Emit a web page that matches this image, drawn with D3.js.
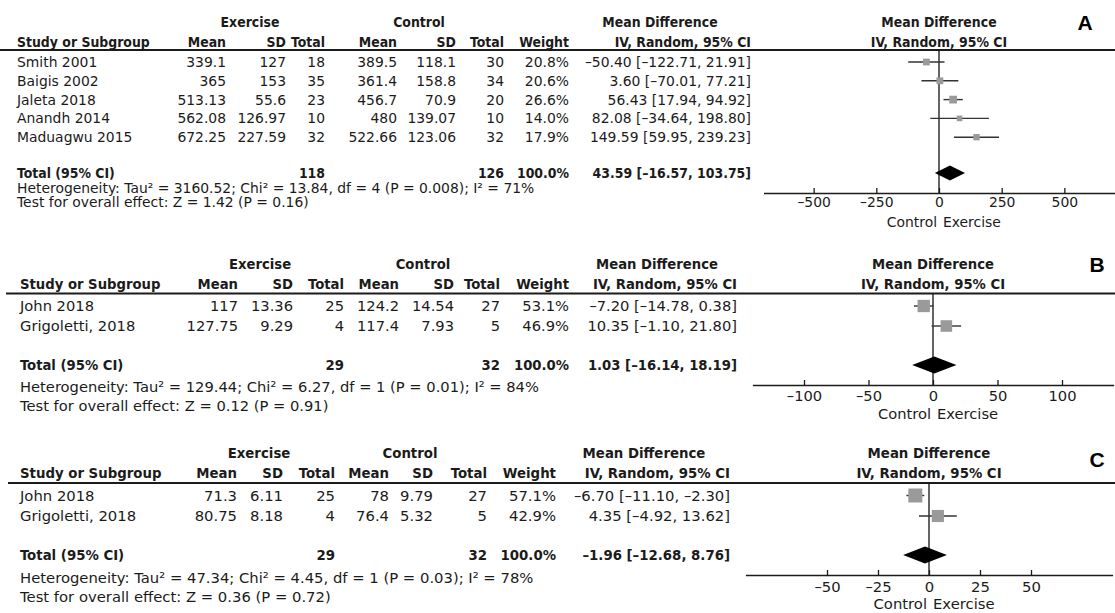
<!DOCTYPE html>
<html>
<head>
<meta charset="utf-8">
<script src="https://cdn.jsdelivr.net/npm/d3@7"></script>
<style>
  body { margin: 0; background: #fff; }
  svg text { font-family: "DejaVu Sans", "Lucida Grande", sans-serif; fill: #1b1b1b; }
</style>
</head>
<body>
<svg id="chart" width="1115" height="613"></svg>
<script>
// ---------- Panel A ----------
const studiesA = ["Smith 2001", "Baigis 2002", "Jaleta 2018", "Anandh 2014", "Maduagwu 2015"];
const exMeanA = [339.1, 365, 513.13, 562.08, 672.25];
const exSdA = [127, 153, 55.6, 126.97, 227.59];
const exNA = [18, 35, 23, 10, 32];
const ctMeanA = [389.5, 361.4, 456.7, 480, 522.66];
const ctSdA = [118.1, 158.8, 70.9, 139.07, 123.06];
const ctNA = [30, 34, 20, 10, 32];
const weightA = [20.8, 20.6, 26.6, 14.0, 17.9];
const mdA = [-50.40, 3.60, 56.43, 82.08, 149.59];
const loA = [-122.71, -70.01, 17.94, -34.64, 59.95];
const hiA = [21.91, 77.21, 94.92, 198.80, 239.23];
const totalsA = [118, 126, 100.0];          // exercise N, control N, weight %
const pooledA = [43.59, -16.57, 103.75];    // estimate, lower, upper
const hetA = "Heterogeneity: Tau² = 3160.52; Chi² = 13.84, df = 4 (P = 0.008); I² = 71%";
const testA = "Test for overall effect: Z = 1.42 (P = 0.16)";
const ticksA = [-500, -250, 0, 250, 500];

// ---------- Panel B ----------
const studiesB = ["John 2018", "Grigoletti, 2018"];
const exMeanB = [117, 127.75];
const exSdB = [13.36, 9.29];
const exNB = [25, 4];
const ctMeanB = [124.2, 117.4];
const ctSdB = [14.54, 7.93];
const ctNB = [27, 5];
const weightB = [53.1, 46.9];
const mdB = [-7.20, 10.35];
const loB = [-14.78, -1.10];
const hiB = [0.38, 21.80];
const totalsB = [29, 32, 100.0];
const pooledB = [1.03, -16.14, 18.19];
const hetB = "Heterogeneity: Tau² = 129.44; Chi² = 6.27, df = 1 (P = 0.01); I² = 84%";
const testB = "Test for overall effect: Z = 0.12 (P = 0.91)";
const ticksB = [-100, -50, 0, 50, 100];

// ---------- Panel C ----------
const studiesC = ["John 2018", "Grigoletti, 2018"];
const exMeanC = [71.3, 80.75];
const exSdC = [6.11, 8.18];
const exNC = [25, 4];
const ctMeanC = [78, 76.4];
const ctSdC = [9.79, 5.32];
const ctNC = [27, 5];
const weightC = [57.1, 42.9];
const mdC = [-6.70, 4.35];
const loC = [-11.10, -4.92];
const hiC = [-2.30, 13.62];
const totalsC = [29, 32, 100.0];
const pooledC = [-1.96, -12.68, 8.76];
const hetC = "Heterogeneity: Tau² = 47.34; Chi² = 4.45, df = 1 (P = 0.03); I² = 78%";
const testC = "Test for overall effect: Z = 0.36 (P = 0.72)";
const ticksC = [-50, -25, 0, 25, 50];

const headerLabels = ["Mean", "SD", "Total", "Mean", "SD", "Total", "Weight", "IV, Random, 95% CI"];

// ---------- helpers ----------
const fmt2 = d3.format(".2f");
// negative numbers are printed with an en dash
const dash = s => String(s).replace(/[-\u2212]/g, "\u2013");
const ciText = (m, l, h) => dash(`${fmt2(m)} [${fmt2(l)}, ${fmt2(h)}]`);
const pct = w => d3.format(".1f")(w) + "%";

// Bold text uses the condensed cut when it is installed; otherwise shrink plain bold.
const measureCtx = document.createElement("canvas").getContext("2d");
function widthOf(font) { measureCtx.font = font; return measureCtx.measureText("Study or Subgroup").width; }
const hasCondensed = widthOf("bold 20px 'DejaVu Sans Condensed', 'DejaVu Sans'") < 0.97 * widthOf("bold 20px 'DejaVu Sans'");
const boldFamily = hasCondensed ? "'DejaVu Sans Condensed', 'DejaVu Sans', sans-serif" : "'DejaVu Sans', sans-serif";
const boldScale = hasCondensed ? 1 : 0.9;

// panel data + layout
const panels = [
  {
    label: "A", studies: studiesA, exMean: exMeanA, exSd: exSdA, exN: exNA,
    ctMean: ctMeanA, ctSd: ctSdA, ctN: ctNA, weight: weightA,
    md: mdA, lo: loA, hi: hiA, totals: totalsA, pooled: pooledA,
    het: hetA, test: testA, ticks: ticksA, domain: [-700, 700],
    fs: 13.9,
    yGroup: 22, yHead: 42, yRule: 50, rowY0: 62, rowStep: 18.8,
    yTotal: 173, yHet: 188, yTest: 202, yAxis: 193, tickPad: 4.5, yFav: 222,
    xStudy: 17, cols: [226, 286, 325, 397, 456, 504, 569, 751],
    xExercise: 250, xControl: 419, xMD: 660,
    range: [763.5, 1114.5], ruleX0: 0, labelX: 1085, labelY: 22,
    sq: 1.5, diaH: 15
  },
  {
    label: "B", studies: studiesB, exMean: exMeanB, exSd: exSdB, exN: exNB,
    ctMean: ctMeanB, ctSd: ctSdB, ctN: ctNB, weight: weightB,
    md: mdB, lo: loB, hi: hiB, totals: totalsB, pooled: pooledB,
    het: hetB, test: testB, ticks: ticksB, domain: [-140, 140],
    fs: 14.7,
    yGroup: 264, yHead: 284, yRule: 293.5, rowY0: 306, rowStep: 20,
    yTotal: 365, yHet: 387, yTest: 406, yAxis: 385, tickPad: 6, yFav: 414,
    xStudy: 20, cols: [238, 293, 344, 399, 454, 500, 569, 737],
    xExercise: 260, xControl: 423, xMD: 657,
    range: [752.4, 1113.6], ruleX0: 6, labelX: 1097, labelY: 264.5,
    sq: 1.69, diaH: 17
  },
  {
    label: "C", studies: studiesC, exMean: exMeanC, exSd: exSdC, exN: exNC,
    ctMean: ctMeanC, ctSd: ctSdC, ctN: ctNC, weight: weightC,
    md: mdC, lo: loC, hi: hiC, totals: totalsC, pooled: pooledC,
    het: hetC, test: testC, ticks: ticksC, domain: [-90, 90],
    fs: 14.8,
    yGroup: 453, yHead: 473, yRule: 483, rowY0: 495.5, rowStep: 20.5,
    yTotal: 555, yHet: 577.5, yTest: 597, yAxis: 575, tickPad: 6, yFav: 604,
    xStudy: 20, cols: [237, 283, 335, 389, 433, 487, 556, 730],
    xExercise: 259, xControl: 410, xMD: 644,
    range: [745.4, 1112.6], ruleX0: 8, labelX: 1097, labelY: 459,
    sq: 1.85, diaH: 17
  }
];

const svg = d3.select("#chart");

function txt(g, x, y, s, o) {
  const t = g.append("text")
    .attr("x", x).attr("y", y).attr("dy", "0.36em")
    .attr("text-anchor", o.anchor || "start")
    .attr("font-size", o.bold ? o.size * boldScale : o.size)
    .text(s);
  if (o.bold) t.attr("font-weight", "bold").style("font-family", boldFamily);
  return t;
}

panels.forEach(P => {
  const g = svg.append("g");
  const x = d3.scaleLinear().domain(P.domain).range(P.range);
  const rowY = i => P.rowY0 + i * P.rowStep;
  const B = { size: P.fs, bold: true };
  const R = { size: P.fs };

  // group headers
  txt(g, P.xExercise, P.yGroup, "Exercise", { ...B, anchor: "middle" });
  txt(g, P.xControl, P.yGroup, "Control", { ...B, anchor: "middle" });
  txt(g, P.xMD, P.yGroup, "Mean Difference", { ...B, anchor: "middle" });
  txt(g, x(0), P.yGroup, "Mean Difference", { ...B, anchor: "middle" });
  txt(g, x(0), P.yHead, "IV, Random, 95% CI", { ...B, anchor: "middle" });

  // column headers
  txt(g, P.xStudy, P.yHead, "Study or Subgroup", B);
  headerLabels.forEach((h, j) => txt(g, P.cols[j], P.yHead, h, { ...B, anchor: "end" }));

  // rule under the header
  g.append("line")
    .attr("x1", P.ruleX0).attr("x2", 1115)
    .attr("y1", P.yRule).attr("y2", P.yRule)
    .attr("stroke", "#1b1b1b").attr("stroke-width", 1.8);

  // study rows
  P.studies.forEach((s, i) => {
    const y = rowY(i);
    txt(g, P.xStudy, y, s, R);
    const vals = [P.exMean[i], P.exSd[i], P.exN[i], P.ctMean[i], P.ctSd[i], P.ctN[i]].map(String);
    vals.push(pct(P.weight[i]));
    vals.push(ciText(P.md[i], P.lo[i], P.hi[i]));
    vals.forEach((v, j) => txt(g, P.cols[j], y, v, { ...R, anchor: "end" }));
  });

  // total row
  txt(g, P.xStudy, P.yTotal, "Total (95% CI)", B);
  txt(g, P.cols[2], P.yTotal, String(P.totals[0]), { ...B, anchor: "end" });
  txt(g, P.cols[5], P.yTotal, String(P.totals[1]), { ...B, anchor: "end" });
  txt(g, P.cols[6], P.yTotal, pct(P.totals[2]), { ...B, anchor: "end" });
  txt(g, P.cols[7], P.yTotal, ciText(P.pooled[0], P.pooled[1], P.pooled[2]), { ...B, anchor: "end" });

  // footnotes
  txt(g, P.xStudy, P.yHet, P.het, R);
  txt(g, P.xStudy, P.yTest, P.test, R);

  // zero line
  g.append("line")
    .attr("x1", x(0)).attr("x2", x(0))
    .attr("y1", P.yRule).attr("y2", P.yAxis)
    .attr("stroke", "#111").attr("stroke-width", 1.3);

  // confidence intervals and squares
  const idx = d3.range(P.studies.length);
  g.selectAll(".ci").data(idx).join("line")
    .attr("x1", i => x(P.lo[i])).attr("x2", i => x(P.hi[i]))
    .attr("y1", i => rowY(i)).attr("y2", i => rowY(i))
    .attr("stroke", "#333").attr("stroke-width", 1.4);
  g.selectAll(".sq").data(idx).join("rect")
    .each(function (i) {
      const s = Math.sqrt(P.weight[i]) * P.sq;
      d3.select(this)
        .attr("x", x(P.md[i]) - s / 2).attr("y", rowY(i) - s / 2)
        .attr("width", s).attr("height", s);
    })
    .attr("fill", "#9a9a9a");

  // pooled diamond
  const h = P.diaH / 2;
  g.append("path")
    .attr("d", `M${x(P.pooled[1])},${P.yTotal}L${x(P.pooled[0])},${P.yTotal - h}L${x(P.pooled[2])},${P.yTotal}L${x(P.pooled[0])},${P.yTotal + h}Z`)
    .attr("fill", "#000");

  // axis
  const axis = d3.axisBottom(x)
    .tickValues(P.ticks)
    .tickSize(-5).tickSizeOuter(0).tickPadding(P.tickPad)
    .tickFormat(d => dash(d3.format("d")(d)));
  const ag = g.append("g").attr("transform", `translate(0,${P.yAxis})`).call(axis);
  ag.attr("font-size", null).attr("font-family", null);
  ag.select(".domain").attr("stroke", "#1b1b1b").attr("stroke-width", 1.5);
  ag.selectAll(".tick line").attr("stroke", "#1b1b1b").attr("stroke-width", 1.3);
  ag.selectAll(".tick text").attr("font-size", P.fs);

  // favours labels
  txt(g, x(0) - 2, P.yFav, "Control", { ...R, anchor: "end" });
  txt(g, x(0) + 4, P.yFav, "Exercise", R);

  // panel letter
  g.append("text")
    .attr("x", P.labelX).attr("y", P.labelY).attr("dy", "0.36em")
    .attr("text-anchor", "middle")
    .attr("font-size", 21).attr("font-weight", "bold")
    .style("font-family", "'Liberation Sans', Arial, sans-serif")
    .style("fill", "#000")
    .text(P.label);
});
</script>
</body>
</html>
